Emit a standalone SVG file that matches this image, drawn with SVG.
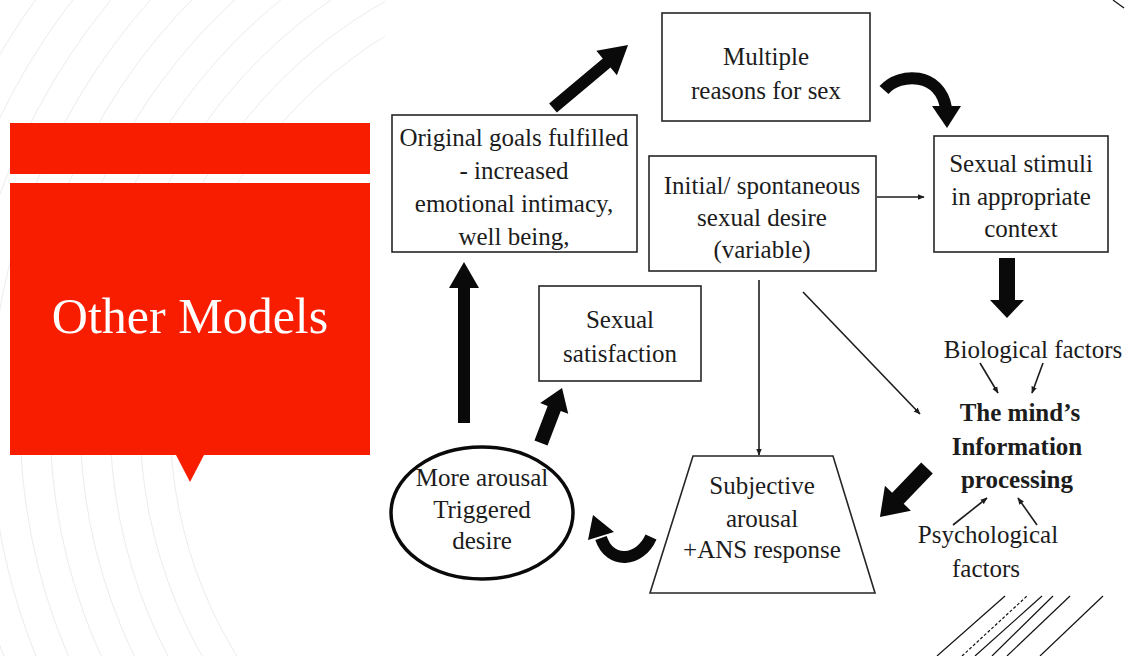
<svg xmlns="http://www.w3.org/2000/svg" width="1130" height="656" viewBox="0 0 1130 656">
<defs>
<style>
.box{fill:#fff;stroke:#262626;stroke-width:1.6}
.t{font-family:"Liberation Serif",Tinos,"Times New Roman",Times,"DejaVu Serif","Noto Serif",serif;font-size:25px;fill:#1c1c1c;text-anchor:middle}
.b{font-weight:bold}
.ttl{font-family:"Liberation Serif",Tinos,"Times New Roman",Times,"DejaVu Serif","Noto Serif",serif;font-size:50px;fill:#fff;text-anchor:middle}
.thin{stroke:#1c1c1c;stroke-width:1.6;fill:none}
.blk{fill:#0a0a0a}
.curve{fill:none;stroke:#0a0a0a;stroke-width:12}
.arc{fill:none;stroke:#ececec;stroke-width:1}
</style>
<marker id="ah" viewBox="0 0 10 10" refX="9" refY="5" markerWidth="7" markerHeight="7" markerUnits="userSpaceOnUse" orient="auto">
<path d="M0,1 L10,5 L0,9 Z" fill="#1c1c1c"/>
</marker>
<clipPath id="leftclip"><rect x="0" y="0" width="385" height="656"/></clipPath>
</defs>
<rect width="1130" height="656" fill="#fff"/>
<g id="background" clip-path="url(#leftclip)">
<circle class="arc" cx="620" cy="420" r="450"/>
<circle class="arc" cx="620" cy="420" r="480"/>
<circle class="arc" cx="620" cy="420" r="510"/>
<circle class="arc" cx="620" cy="420" r="540"/>
<circle class="arc" cx="620" cy="420" r="570"/>
<circle class="arc" cx="620" cy="420" r="600"/>
<circle class="arc" cx="620" cy="420" r="630"/>
<circle class="arc" cx="620" cy="420" r="660"/>
<circle class="arc" cx="620" cy="420" r="690"/>
<circle class="arc" cx="620" cy="420" r="720"/>
</g>
<g id="title-panel">
<rect x="10" y="123" width="360" height="51" fill="#f91d00"/>
<rect x="10" y="183" width="360" height="272" fill="#f91d00"/>
<polygon points="176,455 204,455 190,482" fill="#f91d00"/>
<text class="ttl" x="190" y="333">Other Models</text>
</g>
<g id="decor" stroke="#111" stroke-width="1.2">
<line x1="1113" y1="0" x2="1124" y2="8"/>
<line x1="937" y1="656" x2="1005" y2="596"/>
<line x1="962" y1="656" x2="1027" y2="596" stroke-dasharray="3,2"/>
<line x1="975" y1="656" x2="1042" y2="596"/>
<line x1="992" y1="656" x2="1053" y2="596"/>
<line x1="1007" y1="656" x2="1070" y2="596"/>
<line x1="1040" y1="656" x2="1103" y2="596"/>
</g>
<g id="connectors">
<line class="thin" x1="877" y1="197" x2="924" y2="197" marker-end="url(#ah)"/>
<line class="thin" x1="759" y1="280" x2="759" y2="455" marker-end="url(#ah)"/>
<line class="thin" x1="803" y1="292" x2="920" y2="414" marker-end="url(#ah)"/>
<line class="thin" x1="980" y1="363" x2="998" y2="393" stroke-width="1" marker-end="url(#ah)"/>
<line class="thin" x1="1043" y1="363" x2="1032" y2="393" stroke-width="1" marker-end="url(#ah)"/>
<line class="thin" x1="953" y1="525" x2="987" y2="498" stroke-width="1" marker-end="url(#ah)"/>
<line class="thin" x1="1037" y1="525" x2="1018" y2="498" stroke-width="1" marker-end="url(#ah)"/>
<polygon class="blk" transform="translate(553,108) rotate(-40)" points="0,-6 70,-6 70,-16 98,0 70,16 70,6 0,6"/>
<polygon class="blk" transform="translate(1007,258) rotate(90)" points="0,-8 42,-8 42,-17 60,0 42,17 42,8 0,8"/>
<polygon class="blk" transform="translate(927,468) rotate(133.8)" points="0,-8 42,-8 42,-18 68,0 42,18 42,8 0,8"/>
<polygon class="blk" transform="translate(464,423) rotate(-90)" points="0,-6 135,-6 135,-15 161,0 135,15 135,6 0,6"/>
<polygon class="blk" transform="translate(541,443) rotate(-69.1)" points="0,-7 37,-7 37,-15 59,0 37,15 37,7 0,7"/>
<path class="curve" d="M884,90 C900,72 940,72 946,108"/>
<polygon class="blk" points="932,106 961,106 947,128"/>
<path class="curve" d="M651,537 C640,562 610,565 601,538"/>
<polygon class="blk" points="588,540 614,532 593,515"/>
</g>
<g id="node-goals">
<rect class="box" x="392" y="115" width="245" height="137"/>
<text class="t" x="514" y="146">Original goals fulfilled</text>
<text class="t" x="514" y="179">- increased</text>
<text class="t" x="514" y="212">emotional intimacy,</text>
<text class="t" x="514" y="245">well being,</text>
</g>
<g id="node-reasons">
<rect class="box" x="662" y="13" width="208" height="108" stroke-width="3"/>
<text class="t" x="766" y="65">Multiple</text>
<text class="t" x="766" y="99">reasons for sex</text>
</g>
<g id="node-initial">
<rect class="box" x="649" y="156" width="227" height="115"/>
<text class="t" x="762" y="194">Initial/ spontaneous</text>
<text class="t" x="762" y="226">sexual desire</text>
<text class="t" x="762" y="258">(variable)</text>
</g>
<g id="node-stimuli">
<rect class="box" x="934" y="136" width="174" height="116"/>
<text class="t" x="1021" y="172">Sexual stimuli</text>
<text class="t" x="1021" y="205">in appropriate</text>
<text class="t" x="1021" y="237">context</text>
</g>
<g id="node-satisfaction">
<rect class="box" x="539" y="286" width="162" height="95"/>
<text class="t" x="620" y="328">Sexual</text>
<text class="t" x="620" y="362">satisfaction</text>
</g>
<g id="node-mind">
<text class="t" x="1033" y="358">Biological factors</text>
<text class="t b" x="1020" y="421">The mind’s</text>
<text class="t b" x="1017" y="455">Information</text>
<text class="t b" x="1017" y="488">processing</text>
<text class="t" x="988" y="543">Psychological</text>
<text class="t" x="986" y="577">factors</text>
</g>
<g id="node-subjective">
<polygon class="box" points="693,456 833,456 875,593 650,593"/>
<text class="t" x="762" y="494">Subjective</text>
<text class="t" x="762" y="527">arousal</text>
<text class="t" x="762" y="558">+ANS response</text>
</g>
<g id="node-arousal">
<ellipse cx="482" cy="513" rx="91" ry="66" fill="#fff" stroke="#0a0a0a" stroke-width="3.5"/>
<text class="t" x="482" y="486">More arousal</text>
<text class="t" x="482" y="518">Triggered</text>
<text class="t" x="482" y="549">desire</text>
</g>
</svg>
